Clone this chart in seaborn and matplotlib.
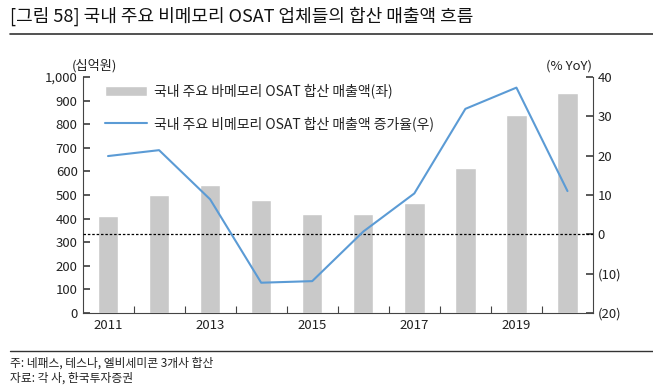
import matplotlib
matplotlib.use("Agg")
import matplotlib.pyplot as plt
import seaborn as sns
import pandas as pd
import numpy as np

years = ["2011", "2012", "2013", "2014", "2015", "2016", "2017", "2018", "2019", "2020"]
sales = [411, 500, 542, 477, 419, 419, 465, 613, 839, 932]
growth = [19.9, 21.4, 8.9, -12.3, -11.9, 0.7, 10.4, 31.9, 37.3, 11.0]
left_ticks = [0, 100, 200, 300, 400, 500, 600, 700, 800, 900, 1000]
right_ticks = [-20, -10, 0, 10, 20, 30, 40]
right_labels = ["(20)", "(10)", "0", "10", "20", "30", "40"]
bar_label = "국내 주요 바메모리 OSAT 합산 매출액(좌)"
line_label = "국내 주요 비메모리 OSAT 합산 매출액 증가율(우)"

sns.set_theme(style="white")
plt.rcParams['font.family'] = ['Noto Sans CJK KR', 'DejaVu Sans']

df = pd.DataFrame({"year": years, "sales": sales, "growth": growth, "pos": np.arange(len(years))})

fig = plt.figure(figsize=(6.53, 3.87), dpi=100)
ax = fig.add_axes([82.5/653, 1 - 313/387, (593 - 82.5)/653, (313 - 77)/387])
sns.barplot(data=df, x="year", y="sales", color="#C9C9C9", width=0.4, ax=ax,
            saturation=1, label=bar_label)
ax.set_ylim(0, 1000)
ax.set_xlim(-0.5, 9.5)
ax.set_yticks(left_ticks)
ax.set_yticklabels([f"{v:,}" for v in left_ticks])
ax.set_xticks(np.arange(0, 10, 2))
ax.set_xticklabels(years[::2])
ax.set_xticks(np.arange(0.5, 9.5, 1), minor=True)
ax.set_xlabel("")
ax.set_ylabel("")
ax.tick_params(axis="x", which="major", length=0, labelsize=9.5, pad=4, colors="#222222")
ax.tick_params(axis="x", which="minor", length=5, direction="in", color="#444444", width=0.8)
ax.tick_params(axis="y", length=5, direction="in", labelsize=9.5, color="#444444", colors="#222222")
ax.tick_params(axis="y", which="both", left=True)
ax.tick_params(axis="x", which="minor", bottom=True)
for s in ["left", "bottom"]:
    ax.spines[s].set_color("#444444")
    ax.spines[s].set_linewidth(0.8)
ax.spines["top"].set_visible(False)
ax.spines["right"].set_visible(False)

ax2 = ax.twinx()
sns.lineplot(data=df, x="pos", y="growth", color="#5B9BD5", linewidth=1.5, ax=ax2, label=line_label)
ax2.set_ylim(-20, 40)
ax2.set_yticks(right_ticks)
ax2.set_yticklabels(right_labels)
ax2.set_xlim(-0.5, 9.5)
ax2.set_xlabel("")
ax2.set_ylabel("")
ax2.axhline(0, color="black", linestyle=(0, (2, 1.5)), linewidth=0.9, zorder=1)
ax2.tick_params(axis="y", length=5, direction="in", labelsize=9.5, color="#444444", colors="#222222", right=True)
ax2.spines["right"].set_color("#444444")
ax2.spines["right"].set_linewidth(0.8)
for s in ["top", "left", "bottom"]:
    ax2.spines[s].set_visible(False)

h1, l1 = ax.get_legend_handles_labels()
h2, l2 = ax2.get_legend_handles_labels()
if ax2.get_legend():
    ax2.get_legend().remove()
if ax.get_legend():
    ax.get_legend().remove()
leg = ax2.legend(h1 + h2, l1 + l2, loc="upper left", bbox_to_anchor=(0.02, 1.025),
                 frameon=False, fontsize=10, handlelength=3.0, labelspacing=1.25,
                 handletextpad=0.5, labelcolor="#222222")

fig.text(72/653, 1 - 66/387, "(십억원)", fontsize=9.5, color="#222222", ha="left", va="center")
fig.text(546/653, 1 - 66/387, "(% YoY)", fontsize=9.5, color="#222222", ha="left", va="center")
fig.text(10/653, 1 - 16/387, "[그림 58] 국내 주요 비메모리 OSAT 업체들의 합산 매출액 흐름",
         fontsize=13, color="#111111", ha="left", va="center", fontweight="medium")
fig.add_artist(plt.Line2D([10/653, 1.0], [1 - 34/387, 1 - 34/387], color="#333333", linewidth=1.2))
fig.add_artist(plt.Line2D([10/653, 1.0], [1 - 351/387, 1 - 351/387], color="#333333", linewidth=1.0))
fig.text(10/653, 1 - 363/387, "주: 네패스, 테스나, 엘비세미콘 3개사 합산", fontsize=8.5, color="#222222", ha="left", va="center")
fig.text(10/653, 1 - 378/387, "자료: 각 사, 한국투자증권", fontsize=8.5, color="#222222", ha="left", va="center")

fig.savefig("out.png", dpi=100)
